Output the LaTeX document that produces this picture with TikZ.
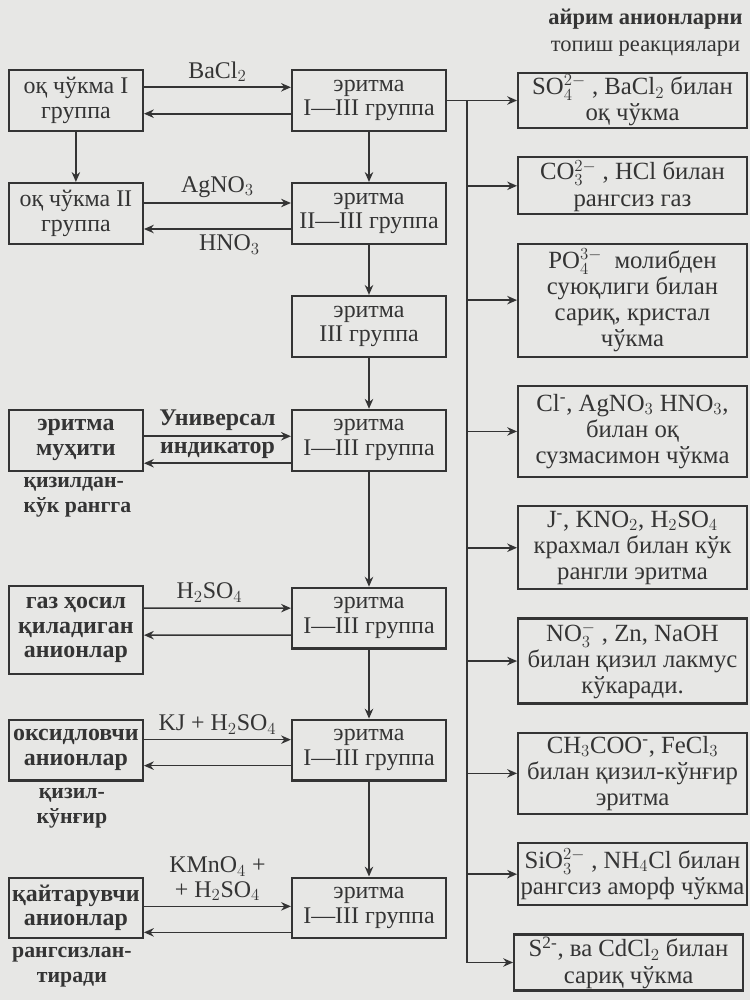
\documentclass[tikz,border=0pt]{standalone}
\usepackage{fontspec}
\setmainfont{Liberation Serif}
\usetikzlibrary{arrows.meta,positioning}
\definecolor{ink}{RGB}{52,52,52}
\definecolor{paper}{RGB}{231,231,229}

\begin{document}
\begin{tikzpicture}[
  every node/.style={text=ink, font=\fontsize{17}{17.5}\selectfont},
  box/.style={draw=ink, line width=1.5pt, align=center, minimum height=1.52cm, minimum width=3.85cm, inner sep=2pt},
  side/.style={box, minimum width=3.35cm},
  res/.style={box, minimum width=5.72cm, inner sep=1pt, font=\fontsize{17.6}{18.6}\selectfont},
  strong/.style={font=\fontsize{17}{17.5}\selectfont\bfseries},
  note/.style={align=center, inner sep=1pt, font=\fontsize{15.5}{18}\selectfont\bfseries},
  arr/.style={-{Stealth[length=7pt,width=6pt]}, draw=ink, line width=1.2pt}]
\path[use as bounding box, fill=paper] (0,0) rectangle (18.75,-25);
% middle column
\node[box] (m1) at (9.225,-2.5125) {эритма\\I—III группа};
\node[box, below=1.25cm of m1] (m2) {эритма\\II—III группа};
\node[box, below=1.25cm of m2] (m3) {эритма\\III группа};
\node[box, below=1.275cm of m3] (m4) {эритма\\I—III группа};
\node[box, below=2.875cm of m4] (m5) {эритма\\I—III группа};
\node[box, below=1.725cm of m5] (m6) {эритма\\I—III группа};
\node[box, below=2.375cm of m6] (m7) {эритма\\I—III группа};
% left column
\node[side, left=3.675cm of m1] (l1) {оқ чўкма I\\группа};
\node[side, left=3.675cm of m2] (l2) {оқ чўкма II\\группа};
\node[side, strong, left=3.675cm of m4] (l3) {эритма\\муҳити};
\node[side, strong, left=3.675cm of m5, yshift=-3mm, minimum height=2.2cm] (l4) {газ ҳосил\\қиладиган\\анионлар};
\node[side, strong, left=3.675cm of m6] (l5) {оксидловчи\\анионлар};
\node[side, strong, left=3.675cm of m7] (l6) {қайтарувчи\\анионлар};
\node[note, below=1mm of l3.south west, anchor=north west, xshift=3.5mm, align=left] (n1) {қизилдан-\\кўк рангга};
\node[note, below=1.3mm of l5, xshift=-1mm] (n2) {қизил-\\кўнғир};
\node[note, below=1.5mm of l6, xshift=-1mm] (n3) {рангсизлан-\\тиради};
% right column
\coordinate[right=5mm of m1] (bus);
\node[res, right=1.75cm of m1, minimum height=1.375cm] (r1) {SO$_4^{2-}$ , BaCl$_2$ билан\\оқ чўкма};
\node[res, below=6.8mm of r1, minimum height=1.425cm] (r2) {CO$_3^{2-}$ , HCl билан\\рангсиз газ};
\node[res, below=6.8mm of r2, minimum height=2.825cm] (r3) {PO$_4^{3-}$ \ молибден\\суюқлиги билан\\сариқ, кристал\\чўкма};
\node[res, below=6.8mm of r3, minimum height=2.275cm] (r4) {Cl\textsuperscript{-}, AgNO$_3$ HNO$_3$,\\билан оқ\\сузмасимон чўкма};
\node[res, below=6.8mm of r4, minimum height=2.075cm] (r5) {J\textsuperscript{-}, KNO$_2$, H$_2$SO$_4$\\крахмал билан кўк\\рангли эритма};
\node[res, below=6.8mm of r5, minimum height=2.125cm] (r6) {NO$_3^-$ , Zn, NaOH\\билан қизил лакмус\\кўкаради.};
\node[res, below=6.8mm of r6, minimum height=2.025cm] (r7) {CH$_3$COO\textsuperscript{-}, FeCl$_3$\\билан қизил-кўнғир\\эритма};
\node[res, below=6.8mm of r7, minimum height=1.55cm] (r8) {SiO$_3^{2-}$ , NH$_4$Cl билан\\рангсиз аморф чўкма};
\node[res, below=6.8mm of r8, minimum height=1.4cm, xshift=-1mm] (r9) {S\textsuperscript{2-}, ва CdCl$_2$ билан\\сариқ чўкма};
\node[above=3.5mm of r1, xshift=3.25mm, align=center, inner sep=1pt, font=\fontsize{16}{19.5}\selectfont] (hd) {\textbf{айрим анионларни}\\топиш реакциялари};
% connectors
\draw[arr] (l1) -- (l2);
\draw[arr] (m1) -- (m2); \draw[arr] (m2) -- (m3); \draw[arr] (m3) -- (m4);
\draw[arr] (m4) -- (m5); \draw[arr] (m5) -- (m6); \draw[arr] (m6) -- (m7);
\draw[arr] ([yshift=3.3mm]l1.east) -- node[above] {BaCl$_2$} ([yshift=3.3mm]m1.west);
\draw[arr] ([yshift=-3.3mm]m1.west) -- ([yshift=-3.3mm]l1.east);
\draw[arr] ([yshift=2.6mm]l2.east) -- node[above] {AgNO$_3$} ([yshift=2.6mm]m2.west);
\draw[arr] ([yshift=-3.9mm]m2.west) -- node[below, xshift=3mm] {HNO$_3$} ([yshift=-3.9mm]l2.east);
\draw[arr] ([yshift=1mm]l3.east) -- node[above, strong] {Универсал} node[below, strong] {индикатор} ([yshift=1mm]m4.west);
\draw[arr] ([yshift=-5.75mm]m4.west) -- ([yshift=-5.75mm]l3.east);
\draw[arr] ([yshift=5.5mm]l4.east) -- node[above, xshift=-2mm] {H$_2$SO$_4$} ([yshift=2.5mm]m5.west);
\draw[arr] ([yshift=-4.25mm]m5.west) -- ([yshift=-1.25mm]l4.east);
\draw[arr] ([yshift=2.6mm]l5.east) -- node[above] {KJ + H$_2$SO$_4$} ([yshift=2.6mm]m6.west);
\draw[arr] ([yshift=-3.9mm]m6.west) -- ([yshift=-3.9mm]l5.east);
\draw[arr] ([yshift=0.4mm]l6.east) -- node[above, align=center] {KMnO$_4$ +\\+ H$_2$SO$_4$} ([yshift=0.4mm]m7.west);
\draw[arr] ([yshift=-6.1mm]m7.west) -- ([yshift=-6.1mm]l6.east);
\draw[arr] (m1) -- (r1);
\draw[arr] (bus) |- (r9);
\foreach \r in {r2,r3,r4,r5,r6,r7,r8} \draw[arr] (bus |- \r.west) -- (\r);
\end{tikzpicture}
\end{document}
